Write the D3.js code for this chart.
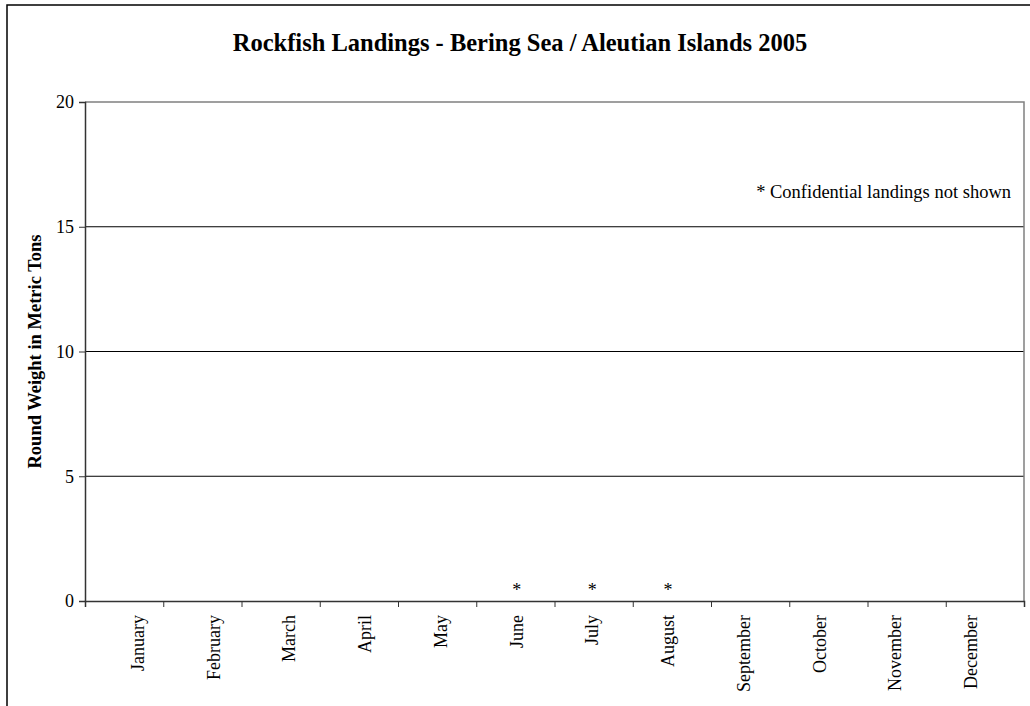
<!DOCTYPE html>
<html><head><meta charset="utf-8">
<script src="https://cdn.jsdelivr.net/npm/d3@7"></script>
<style>
body{margin:0;background:#fff;}
svg text{font-family:"Liberation Serif","Times New Roman",serif;fill:#000;}
</style></head>
<body>
<svg id="chart" width="1030" height="706"></svg>
<script>
const months = ["January","February","March","April","May","June","July","August","September","October","November","December"];
const values = [0,0,0,0,0,0,0,0,0,0,0,0];
const pointLabels = ["","","","","","*","*","*","","","",""];
const yTicks = [0,5,10,15,20];
const title = "Rockfish Landings - Bering Sea / Aleutian Islands 2005";
const yTitle = "Round Weight in Metric Tons";
const note = "* Confidential landings not shown";

const svg = d3.select("#chart");
const m = {left:85, top:102, right:1024, bottom:601};

// outer frame
svg.append("rect").attr("x",7).attr("y",5).attr("width",1040).attr("height",720)
  .attr("fill","none").attr("stroke","#000").attr("stroke-width",1.5);

const x = d3.scaleBand().domain(months).range([m.left,m.right]).padding(0.4);
const xEdge = d3.scaleLinear().domain([0,months.length]).range([m.left,m.right]);
const y = d3.scaleLinear().domain([0,20]).range([m.bottom,m.top]);

// gridlines
svg.append("g").selectAll("line").data(yTicks.filter(d=>d>0 && d<20)).join("line")
  .attr("x1",m.left).attr("x2",m.right).attr("y1",d=>y(d)).attr("y2",d=>y(d))
  .attr("stroke","#000").attr("stroke-width",1);

// plot border (top, right)
svg.append("path").attr("d",`M${m.left},${m.top}H${m.right}V${m.bottom}`)
  .attr("fill","none").attr("stroke","#808080").attr("stroke-width",1.5);

// bars (zero values)
svg.append("g").selectAll("rect").data(values).join("rect")
  .attr("x",(d,i)=>x(months[i])).attr("width",x.bandwidth())
  .attr("y",d=>y(d)).attr("height",d=>y(0)-y(d)).attr("fill","#000080");

// y axis
const yAxis = d3.axisLeft(y).tickValues(yTicks).tickSize(6).tickPadding(5).tickFormat(d3.format("d"));
const gy = svg.append("g").attr("transform",`translate(${m.left},0)`).call(yAxis);
gy.select(".domain").attr("stroke","#333").attr("stroke-width",1.5);
gy.selectAll(".tick line").attr("stroke","#333");
gy.selectAll(".tick text").attr("font-size",18).attr("font-family","Liberation Serif").attr("fill","#000");

// x axis with ticks at category edges
const xAxis = d3.axisBottom(xEdge).tickValues(d3.range(0,months.length+1)).tickSize(6).tickFormat("");
const gx = svg.append("g").attr("transform",`translate(0,${m.bottom})`).call(xAxis);
gx.select(".domain").attr("stroke","#333").attr("stroke-width",1.5);
gx.selectAll(".tick line").attr("stroke","#333");

// month labels
svg.append("g").selectAll("text").data(months).join("text")
  .attr("transform",d=>`translate(${x(d)+x.bandwidth()/2+6},${m.bottom+14}) rotate(-90)`)
  .attr("text-anchor","end").attr("font-size",18).text(d=>d);

// point labels
svg.append("g").selectAll("text").data(values).join("text")
  .attr("x",(d,i)=>x(months[i])+x.bandwidth()/2).attr("y",d=>y(d)-5)
  .attr("text-anchor","middle").attr("font-size",18).text((d,i)=>pointLabels[i]);

// title
svg.append("text").attr("x",520).attr("y",51).attr("text-anchor","middle")
  .attr("font-size",24.5).attr("font-weight","bold").text(title);

// y title
svg.append("text").attr("transform",`translate(41,${(m.top+m.bottom)/2}) rotate(-90)`)
  .attr("text-anchor","middle").attr("font-size",18.5).attr("font-weight","bold").text(yTitle);

// note
svg.append("text").attr("x",1011).attr("y",198).attr("text-anchor","end")
  .attr("font-size",18.5).text(note);
</script>
</body></html>
